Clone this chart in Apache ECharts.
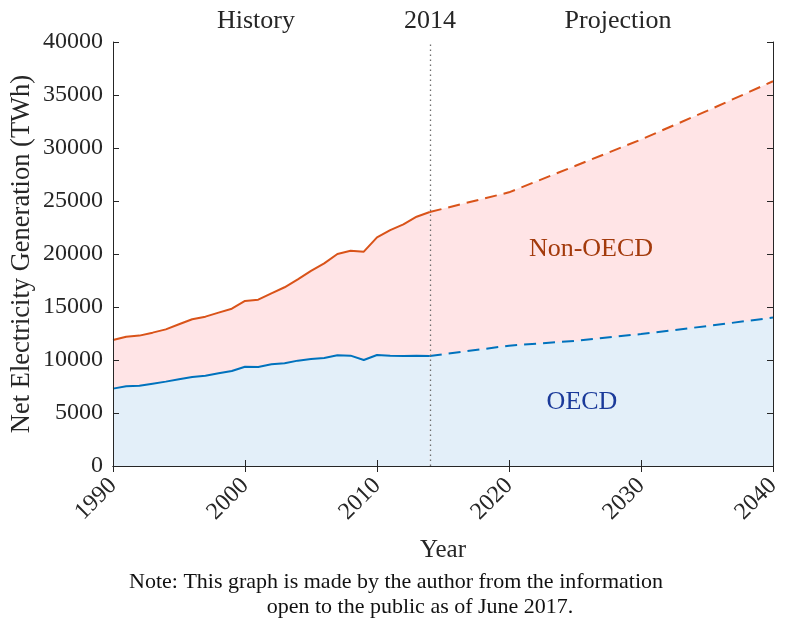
<!DOCTYPE html>
<html>
<head>
<meta charset="utf-8">
<script src="https://cdn.jsdelivr.net/npm/echarts@6/dist/echarts.min.js"></script>
<style>html,body{margin:0;padding:0;background:#fff}#c{width:788px;height:621px}</style>
</head>
<body>
<div id="c"></div>
<script>
// Historical years and values (TWh)
var histYears = [1990,1991,1992,1993,1994,1995,1996,1997,1998,1999,2000,2001,2002,2003,2004,2005,2006,2007,2008,2009,2010,2011,2012,2013,2014];
var histWorld = [11890,12200,12300,12580,12890,13370,13840,14090,14470,14840,15570,15690,16290,16860,17610,18400,19120,20000,20310,20220,21570,22260,22800,23520,23960];
var histOECD  = [7300,7520,7580,7770,7960,8180,8400,8520,8740,8960,9370,9340,9590,9690,9940,10090,10190,10440,10410,10000,10470,10410,10380,10410,10380];
// Projection years and values (TWh)
var projYears = [2014,2020,2025,2030,2035,2040];
var projWorld = [23960,25820,28300,30800,33500,36300];
var projOECD  = [10380,11350,11800,12450,13200,14000];
// Axis ticks
var xTicks = [1990,2000,2010,2020,2030,2040];
var yTicks = [0,5000,10000,15000,20000,25000,30000,35000,40000];

function pairs(xs, ys){ return xs.map(function(x,i){ return [x, ys[i]]; }); }

var FONT = 'Liberation Serif';
var axisCol = '#262626';
var red = '#D95319', blue = '#0072BD';
var pink = '#FFE4E6', lightBlue = '#E3EFF9';

var chart = echarts.init(document.getElementById('c'));
var axisCommon = {
  min: 1990, max: 2040, interval: 10, type: 'value', z: 10,
  axisLine: {show: true, lineStyle: {color: axisCol, width: 1}},
  axisTick: {show: true, inside: true, length: 6, lineStyle: {color: axisCol}},
  splitLine: {show: false}
};
var yCommon = {
  min: 0, max: 40000, interval: 5000, type: 'value', z: 10,
  axisLine: {show: true, lineStyle: {color: axisCol, width: 1}},
  axisTick: {show: true, inside: true, length: 6, lineStyle: {color: axisCol}},
  splitLine: {show: false}
};
chart.setOption({
  animation: false,
  grid: {left: 113, right: 15, top: 42, bottom: 155},
  xAxis: [
    Object.assign({}, axisCommon, {
      position: 'bottom',
      axisLabel: {rotate: 45, fontFamily: FONT, fontSize: 24, color: '#262626', margin: 16,
        formatter: function(v){ return xTicks.indexOf(v) >= 0 ? String(v) : ''; }},
      name: 'Year', nameLocation: 'middle', nameGap: 72, nameMoveOverlap: false,
      nameTextStyle: {fontFamily: FONT, fontSize: 25, color: '#262626'}
    }),
    Object.assign({}, axisCommon, {position: 'top', axisLabel: {show: false}})
  ],
  yAxis: [
    Object.assign({}, yCommon, {
      position: 'left',
      axisLabel: {fontFamily: FONT, fontSize: 24, color: '#262626', margin: 10,
        formatter: function(v){ return yTicks.indexOf(v) >= 0 ? String(v) : ''; }},
      name: 'Net Electricity Generation (TWh)', nameLocation: 'middle', nameGap: 77, nameMoveOverlap: false,
      nameTextStyle: {fontFamily: FONT, fontSize: 26.5, color: '#262626'}
    }),
    Object.assign({}, yCommon, {position: 'right', axisLabel: {show: false}})
  ],
  series: [
    {type: 'line', name: 'World history', data: pairs(histYears, histWorld), symbol: 'none',
      lineStyle: {color: red, width: 2}, areaStyle: {color: pink, opacity: 1}, z: 2},
    {type: 'line', name: 'World projection', data: pairs(projYears, projWorld), symbol: 'none',
      lineStyle: {color: red, width: 2, type: [12, 7]}, areaStyle: {color: pink, opacity: 1}, z: 2},
    {type: 'line', name: 'OECD history', data: pairs(histYears, histOECD), symbol: 'none',
      lineStyle: {color: blue, width: 2}, areaStyle: {color: lightBlue, opacity: 1}, z: 3},
    {type: 'line', name: 'OECD projection', data: pairs(projYears, projOECD), symbol: 'none',
      lineStyle: {color: blue, width: 2, type: [12, 7]}, areaStyle: {color: lightBlue, opacity: 1}, z: 3,
      markLine: {silent: true, symbol: 'none', label: {show: false},
        lineStyle: {color: '#6e6e6e', type: [1.5, 3.5], width: 1.3},
        data: [{xAxis: 2014}]}}
  ],
  graphic: [
    {type: 'text', style: {text: 'History', x: 256, y: 21, fontFamily: FONT, fontSize: 26, fill: '#262626', textAlign: 'center', textVerticalAlign: 'middle'}},
    {type: 'text', style: {text: '2014', x: 430, y: 21, fontFamily: FONT, fontSize: 26, fill: '#262626', textAlign: 'center', textVerticalAlign: 'middle'}},
    {type: 'text', style: {text: 'Projection', x: 618, y: 21, fontFamily: FONT, fontSize: 26, fill: '#262626', textAlign: 'center', textVerticalAlign: 'middle'}},
    {type: 'text', z: 10, style: {text: 'Non-OECD', x: 591, y: 249, fontFamily: FONT, fontSize: 26, fill: '#A33A0C', textAlign: 'center', textVerticalAlign: 'middle'}},
    {type: 'text', z: 10, style: {text: 'OECD', x: 582, y: 402, fontFamily: FONT, fontSize: 26, fill: '#1B3A9A', textAlign: 'center', textVerticalAlign: 'middle'}},
    {type: 'text', style: {text: 'Note: This graph is made by the author from the information', x: 396, y: 582, fontFamily: FONT, fontSize: 22, fill: '#111', textAlign: 'center', textVerticalAlign: 'middle'}},
    {type: 'text', style: {text: 'open to the public as of June 2017.', x: 420, y: 607, fontFamily: FONT, fontSize: 22, fill: '#111', textAlign: 'center', textVerticalAlign: 'middle'}}
  ]
});
</script>
</body>
</html>
